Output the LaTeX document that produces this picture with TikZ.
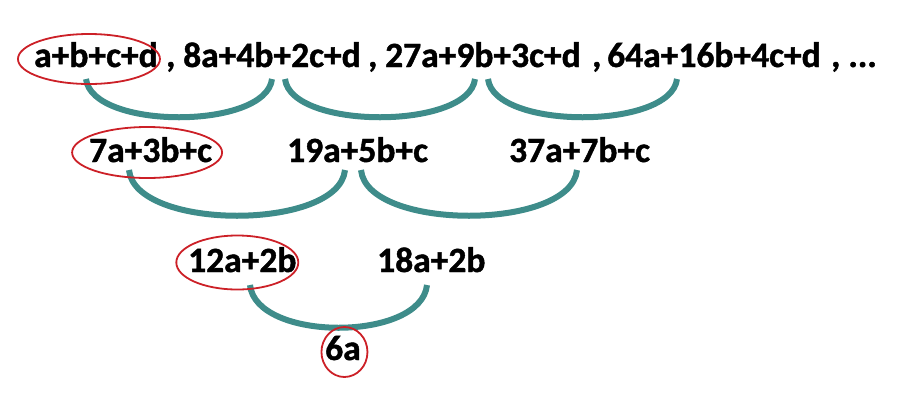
\documentclass[tikz,border=0pt]{standalone}
\usepackage{fontspec}
\setmainfont{Carlito}
\newfontfamily\termfont{Carlito}[UprightFont={* Bold}, FakeBold=1.2]
\usepackage{tikz}
\usetikzlibrary{calc}
\definecolor{arcteal}{RGB}{62, 140, 138}
\definecolor{ringred}{RGB}{204, 32, 39}

\begin{document}
\begin{tikzpicture}[x=1pt, y=-1pt,
    term/.style={anchor=base west, inner sep=0pt, font=\termfont\fontsize{35.5}{40}\selectfont},
    arcline/.style={line width=6pt, arcteal},
    ring/.style={line width=1.8pt, ringred}]
    \useasboundingbox (0,0) rectangle (905,400);
    % first row
    \node[term] (t1) at (34,67) {a+b+c+d};
    \node[term] (s1) at (166,67) {,};
    \node[term] (t2) at (183,67) {8a+4b+2c+d};
    \node[term] (s2) at (368,67) {,};
    \node[term] (t3) at (385,67) {27a+9b+3c+d};
    \node[term] (s3) at (592,67) {,};
    \node[term] (t4) at (607,67) {64a+16b+4c+d};
    \node[term] (s4) at (831,67) {, ...};
    % second row
    \node[term] (u1) at (89,162) {7a+3b+c};
    \node[term] (u2) at (287,162) {19a+5b+c};
    \node[term] (u3) at (509,162) {37a+7b+c};
    % third row
    \node[term] (v1) at (188,272) {12a+2b};
    \node[term] (v2) at (377,272) {18a+2b};
    % last one
    \node[term] (w1) at (325,360) {6a};

    \draw[arcline] ($(t1.base west)+(52,12)$) .. controls +(6,51) and +(-6,51) .. ($(t2.base west)+(89,12)$);
    \draw[arcline] ($(t2.base west)+(102,12)$) .. controls +(6,51) and +(-6,51) .. ($(t3.base west)+(90,12)$);
    \draw[arcline] ($(t3.base west)+(103,12)$) .. controls +(6,51) and +(-6,51) .. ($(t4.base west)+(70,12)$);
    \draw[arcline] ($(u1.base west)+(40,8)$) .. controls +(6,61) and +(-6,61) .. ($(u2.base west)+(58,8)$);
    \draw[arcline] ($(u2.base west)+(74,8)$) .. controls +(6,61) and +(-6,61) .. ($(u3.base west)+(68,8)$);
    \draw[arcline] ($(v1.base west)+(62,13)$) .. controls +(6,57) and +(-6,57) .. ($(v2.base west)+(50,13)$);

    \draw[ring] ($(t1.base)+(-7,-8)$) ellipse [x radius=71, y radius=25];
    \draw[ring] ($(u1.base)+(-3.5,-9.5)$) ellipse [x radius=75, y radius=25.5];
    \draw[ring] ($(v1.base)+(-5,-9.5)$) ellipse [x radius=61, y radius=27];
    \draw[ring] ($(w1.base)+(1.5,-8)$) ellipse [x radius=23, y radius=25];
\end{tikzpicture}
\end{document}
